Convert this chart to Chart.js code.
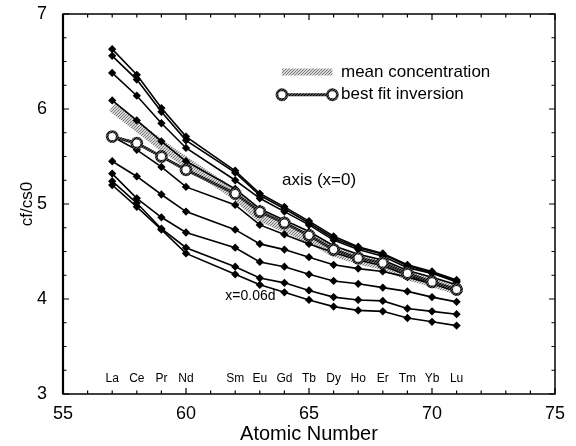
<!DOCTYPE html>
<html>
<head>
<meta charset="utf-8">
<script src="https://cdn.jsdelivr.net/npm/chart.js@4.4.1/dist/chart.umd.min.js"></script>
<style>
html,body{margin:0;padding:0;background:#fff;}
canvas{display:block;}
</style>
</head>
<body>
<canvas id="c" width="576" height="446"></canvas>
<script>
// ---- data ----
const atomicNumbers = [57, 58, 59, 60, 62, 63, 64, 65, 66, 67, 68, 69, 70, 71];
const elementLabels = ['La', 'Ce', 'Pr', 'Nd', 'Sm', 'Eu', 'Gd', 'Tb', 'Dy', 'Ho', 'Er', 'Tm', 'Yb', 'Lu'];

const profileA = [6.63, 6.36, 6.01, 5.71, 5.35, 5.11, 4.97, 4.82, 4.66, 4.55, 4.48, 4.36, 4.29, 4.20];
const profileB = [6.56, 6.31, 5.97, 5.67, 5.33, 5.09, 4.95, 4.80, 4.64, 4.54, 4.47, 4.35, 4.28, 4.19];
const profileC = [6.38, 6.14, 5.85, 5.59, 5.25, 5.06, 4.92, 4.78, 4.62, 4.52, 4.45, 4.33, 4.27, 4.18];
const profileD = [6.09, 5.88, 5.66, 5.45, 5.16, 4.95, 4.83, 4.71, 4.56, 4.47, 4.41, 4.30, 4.23, 4.15];
const profileX = [5.71, 5.57, 5.39, 5.18, 4.99, 4.78, 4.68, 4.58, 4.49, 4.41, 4.35, 4.25, 4.17, 4.09];
const profileE = [5.45, 5.29, 5.10, 4.92, 4.73, 4.58, 4.52, 4.44, 4.36, 4.32, 4.29, 4.23, 4.16, 4.08];
const profileF = [5.32, 5.06, 4.86, 4.70, 4.54, 4.39, 4.34, 4.26, 4.19, 4.16, 4.12, 4.08, 4.02, 3.97];
const profileG = [5.24, 5.01, 4.74, 4.54, 4.34, 4.22, 4.17, 4.09, 4.02, 3.99, 3.98, 3.90, 3.87, 3.84];
const profileH = [5.20, 4.97, 4.73, 4.48, 4.26, 4.15, 4.07, 3.99, 3.92, 3.88, 3.87, 3.80, 3.76, 3.72];
const meanConcentration = [6.02, 5.82, 5.62, 5.44, 5.10, 4.87, 4.76, 4.64, 4.50, 4.42, 4.36, 4.25, 4.18, 4.10];
const bestFitInversion = [5.71, 5.64, 5.50, 5.36, 5.11, 4.92, 4.80, 4.67, 4.52, 4.43, 4.38, 4.27, 4.18, 4.10];

const blackProfiles = [profileA, profileB, profileC, profileD, profileX, profileE, profileF, profileG, profileH];

const xTickLabels = [55, 60, 65, 70, 75];
const yTickLabels = [3, 4, 5, 6, 7];

// ---- helpers ----
function pts(vals) { return atomicNumbers.map((x, i) => ({x: x, y: vals[i]})); }

function stipple(dark, light) {
  const c = document.createElement('canvas');
  c.width = 3; c.height = 3;
  const g = c.getContext('2d');
  g.fillStyle = light; g.fillRect(0, 0, 3, 3);
  g.fillStyle = dark;
  g.fillRect(0, 0, 1, 1); g.fillRect(2, 1, 1, 1); g.fillRect(1, 2, 1, 1);
  return g.createPattern(c, 'repeat');
}
const bandPattern = stipple('#7a7a7a', '#d6d6d6');
const fitPattern = stipple('#000', '#4a4a4a');

const FONT = "'Liberation Sans', Arial, Helvetica, sans-serif";

const datasets = [];
datasets.push({
  label: 'mean concentration', data: pts(meanConcentration),
  borderColor: bandPattern, borderWidth: 10, pointRadius: 0, order: 10, tension: 0
});
blackProfiles.forEach((p, i) => datasets.push({
  label: 'profile' + i, data: pts(p),
  borderColor: '#000', borderWidth: 1.6, pointStyle: 'rectRot', pointRadius: 3,
  pointBackgroundColor: '#000', pointBorderColor: '#000', order: 5, tension: 0
}));
datasets.push({
  label: 'best fit inversion', data: pts(bestFitInversion),
  borderColor: fitPattern, borderWidth: 3, pointStyle: 'circle', pointRadius: 5,
  pointBorderWidth: 2.8, pointBorderColor: fitPattern, pointBackgroundColor: '#fff', order: 0, tension: 0
});

const framePlugin = {
  id: 'frame',
  afterDatasetsDraw(chart) {
    const ctx = chart.ctx;
    const xs = chart.scales.x, ys = chart.scales.y;
    const a = chart.chartArea;
    ctx.save();
    ctx.strokeStyle = '#000';
    ctx.lineWidth = 1.5;
    ctx.strokeRect(a.left, a.top, a.right - a.left, a.bottom - a.top);
    ctx.lineWidth = 2.2;
    ctx.beginPath(); ctx.moveTo(a.left, a.top); ctx.lineTo(a.left, a.bottom); ctx.stroke();
    ctx.lineWidth = 1.2;
    ctx.beginPath();
    for (let v = 55; v <= 75; v++) {
      const px = xs.getPixelForValue(v);
      const len = (v % 5 === 0) ? 6 : 3.5;
      ctx.moveTo(px, a.bottom); ctx.lineTo(px, a.bottom - len);
      ctx.moveTo(px, a.top); ctx.lineTo(px, a.top + len);
    }
    for (let k = 0; k <= 16; k++) {
      const v = 3 + k * 0.25;
      const py = ys.getPixelForValue(v);
      const len = (k % 4 === 0) ? 6 : 3.5;
      ctx.moveTo(a.left, py); ctx.lineTo(a.left + len, py);
      ctx.moveTo(a.right, py); ctx.lineTo(a.right - len, py);
    }
    ctx.stroke();

    // element symbols
    ctx.fillStyle = '#000';
    ctx.font = '12px ' + FONT;
    ctx.textAlign = 'center';
    ctx.textBaseline = 'middle';
    const yLab = ys.getPixelForValue(3.16);
    atomicNumbers.forEach((n, i) => ctx.fillText(elementLabels[i], xs.getPixelForValue(n), yLab));

    // annotations
    ctx.textAlign = 'left';
    ctx.font = '17px ' + FONT;
    ctx.fillText('axis (x=0)', xs.getPixelForValue(63.9), ys.getPixelForValue(5.25));
    ctx.font = '14px ' + FONT;
    ctx.fillText('x=0.06d', xs.getPixelForValue(61.6), ys.getPixelForValue(4.03));

    // legend
    const lx1 = xs.getPixelForValue(63.9), lx2 = xs.getPixelForValue(65.95);
    const ly1 = ys.getPixelForValue(6.39), ly2 = ys.getPixelForValue(6.15);
    ctx.strokeStyle = bandPattern; ctx.lineWidth = 7;
    ctx.beginPath(); ctx.moveTo(lx1, ly1); ctx.lineTo(lx2, ly1); ctx.stroke();
    ctx.strokeStyle = fitPattern; ctx.lineWidth = 3;
    ctx.beginPath(); ctx.moveTo(lx1, ly2); ctx.lineTo(lx2, ly2); ctx.stroke();
    ctx.fillStyle = '#fff'; ctx.lineWidth = 2.8;
    [lx1, lx2].forEach(x => { ctx.beginPath(); ctx.arc(x, ly2, 5, 0, Math.PI * 2); ctx.fill(); ctx.stroke(); });
    ctx.fillStyle = '#000';
    ctx.font = '17px ' + FONT;
    ctx.fillText('mean concentration', xs.getPixelForValue(66.3), ly1);
    ctx.fillText('best fit inversion', xs.getPixelForValue(66.3), ly2);
    ctx.restore();
  }
};

new Chart(document.getElementById('c'), {
  type: 'line',
  data: {datasets: datasets},
  options: {
    responsive: false,
    animation: false,
    devicePixelRatio: 1,
    layout: {padding: {top: 14, right: 21, left: 0, bottom: 0}},
    plugins: {legend: {display: false}, tooltip: {enabled: false}},
    scales: {
      x: {
        type: 'linear', min: 55, max: 75,
        grid: {display: false, drawTicks: false},
        border: {display: false},
        afterBuildTicks: s => { s.ticks = xTickLabels.map(v => ({value: v})); },
        ticks: {font: {size: 18, family: FONT}, color: '#000', padding: 9, maxRotation: 0},
        title: {display: true, text: 'Atomic Number', font: {size: 20, family: FONT}, color: '#000', padding: {top: 0, bottom: 0}},
        afterFit: s => { s.height = 52; s.paddingLeft = 0; s.paddingRight = 0; s.paddingTop = 0; s.paddingBottom = 0; }
      },
      y: {
        type: 'linear', min: 3, max: 7,
        grid: {display: false, drawTicks: false},
        border: {display: false},
        afterBuildTicks: s => { s.ticks = yTickLabels.map(v => ({value: v})); },
        ticks: {font: {size: 18, family: FONT}, color: '#000', padding: 16},
        title: {display: true, text: 'cf/cs0', font: {size: 17, family: FONT}, color: '#000', padding: {top: 17, bottom: 0}},
        afterFit: s => { s.width = 63; s.paddingLeft = 0; s.paddingRight = 0; s.paddingTop = 0; s.paddingBottom = 0; }
      }
    }
  },
  plugins: [framePlugin]
});
</script>
</body>
</html>
